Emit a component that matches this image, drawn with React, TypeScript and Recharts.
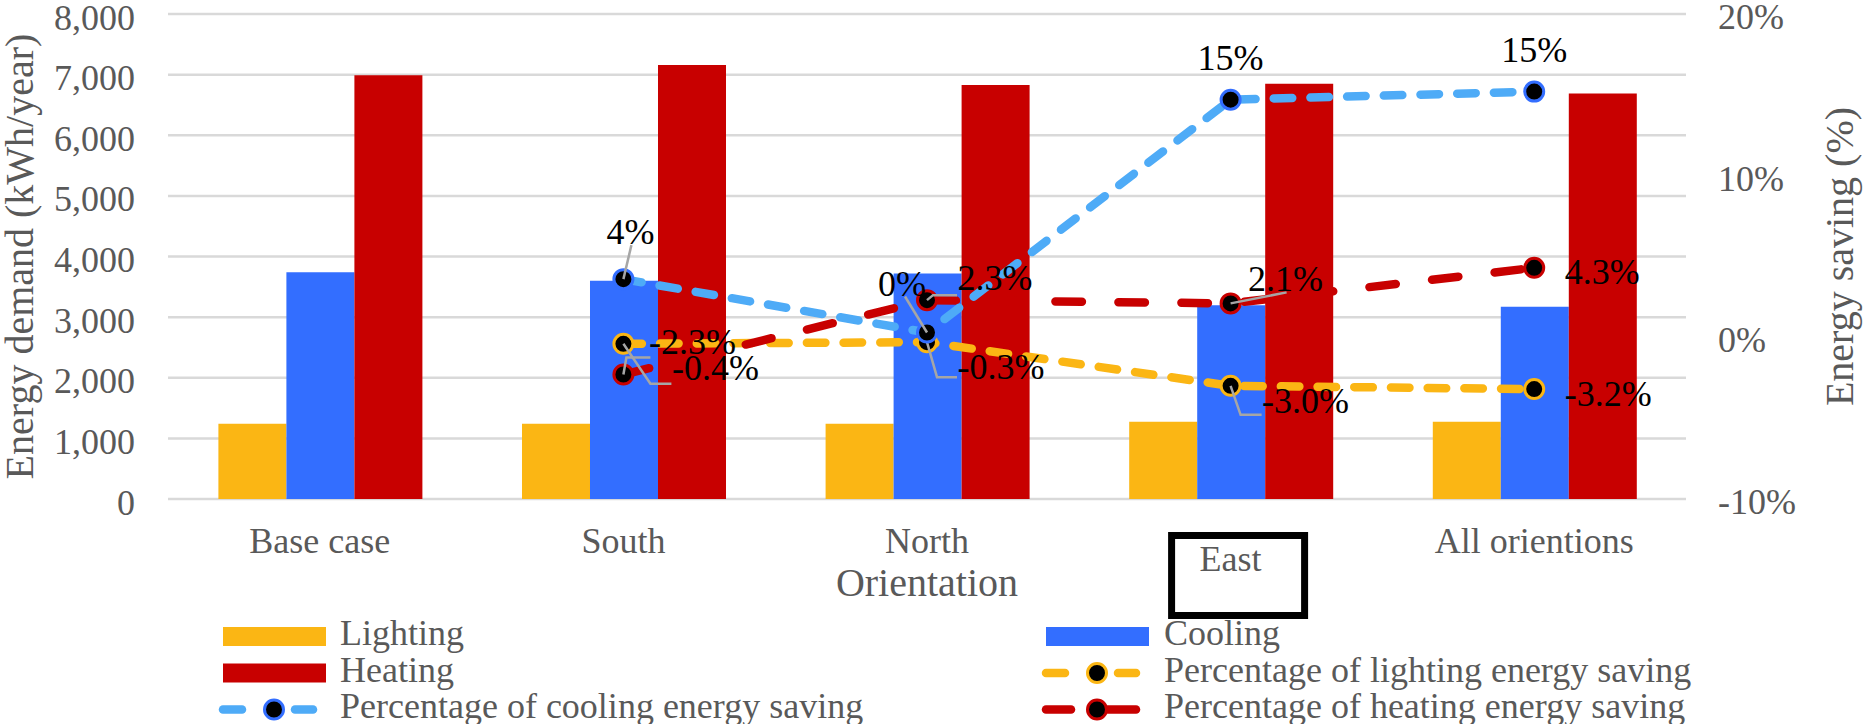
import React from 'react';
import { ComposedChart, Bar, Line, XAxis, YAxis, CartesianGrid, Legend } from 'recharts';

// ---------- data ----------
const categories = ['Base case', 'South', 'North', 'East', 'All orientions'];
const lightingDemand = [1240, 1240, 1240, 1275, 1275];
const coolingDemand = [3740, 3600, 3720, 3195, 3170];
const heatingDemand = [6990, 7160, 6830, 6850, 6690];
const lightingSaving: (number | null)[] = [null, -0.4, -0.3, -3.0, -3.2];
const coolingSaving: (number | null)[] = [null, 3.6, 0.3, 14.7, 15.2];
const heatingSaving: (number | null)[] = [null, -2.3, 2.3, 2.1, 4.3];
const demandTicks = [0, 1000, 2000, 3000, 4000, 5000, 6000, 7000, 8000];
const savingTicks = [-10, 0, 10, 20];
const highlightedCategory = 'East';

const data = categories.map((c, i) => ({
  category: c,
  lighting: lightingDemand[i],
  cooling: coolingDemand[i],
  heating: heatingDemand[i],
  lightingSaving: lightingSaving[i],
  coolingSaving: coolingSaving[i],
  heatingSaving: heatingSaving[i],
}));

// ---------- styles / layout ----------
const W = 1865;
const H = 724;
const FONT = "'Liberation Serif', 'Times New Roman', serif";
const GRAY_TEXT = '#595959';
const LIGHT = '#FBB614';
const COOL = '#336EFF';
const COOL_LINE = '#4EABF7';
const HEAT = '#C80000';
const LEADER = '#A6A6A6';
const LINE_W = 8.5;

type LabelCfg = { dx: number; dy: number; leader?: number[][] } | null;
const labelLayout: Record<string, LabelCfg[]> = {
  coolingSaving: [
    null,
    { dx: 7, dy: -47, leader: [[0, 0], [8, -34]] },
    { dx: -25, dy: -48, leader: [[0, 0], [-22, -36]] },
    { dx: 0, dy: -42 },
    { dx: 0, dy: -42 },
  ],
  lightingSaving: [
    null,
    { dx: 92, dy: 24, leader: [[0, 0], [27, 40], [48, 40]] },
    { dx: 74, dy: 25, leader: [[0, 0], [10, 35], [30, 35]] },
    { dx: 75, dy: 15, leader: [[0, 0], [10, 29], [31, 29]] },
    { dx: 74, dy: 5 },
  ],
  heatingSaving: [
    null,
    { dx: 69, dy: -33, leader: [[0, 0], [3, -17], [27, -17]] },
    { dx: 68, dy: -22, leader: [[0, 0], [6, -5], [30, -5]] },
    { dx: 55, dy: -24, leader: [[0, 0], [56, -11]] },
    { dx: 68, dy: 4 },
  ],
};

const makeDot = (key: string, ring: string, decimals: number) => (props: any) => {
  const { cx, cy, index } = props;
  const value = props.value != null ? props.value : props.payload ? props.payload[key] : null;
  if (cx == null || cy == null || value == null || Number.isNaN(cy)) {
    return <g key={`${key}-dot-${index}`} />;
  }
  const cfg = labelLayout[key][index];
  const txt = `${Number(value).toFixed(decimals)}%`;
  return (
    <g key={`${key}-dot-${index}`}>
      <circle cx={cx} cy={cy} r={9.5} fill="#000" stroke={ring} strokeWidth={3} />
      {cfg && cfg.leader && (
        <polyline
          points={cfg.leader.map((p) => `${cx + p[0]},${cy + p[1]}`).join(' ')}
          fill="none"
          stroke={LEADER}
          strokeWidth={2.5}
        />
      )}
      {cfg && (
        <text
          x={cx + cfg.dx}
          y={cy + cfg.dy + 12}
          textAnchor="middle"
          fontFamily={FONT}
          fontSize={36}
          fill="#000"
        >
          {txt}
        </text>
      )}
    </g>
  );
};

const LeftTick = (props: any) => {
  const { x, y, payload } = props;
  return (
    <text x={x} y={y + 15.5} textAnchor="end" fontFamily={FONT} fontSize={36} fill={GRAY_TEXT}>
      {Number(payload.value).toLocaleString('en-US')}
    </text>
  );
};

const RightTick = (props: any) => {
  const { x, y, payload } = props;
  return (
    <text x={x} y={y + 15} textAnchor="start" fontFamily={FONT} fontSize={36} fill={GRAY_TEXT}>
      {`${payload.value}%`}
    </text>
  );
};

const XTick = (props: any) => {
  const { x, y, payload } = props;
  const boxed = payload.value === highlightedCategory;
  return (
    <g>
      {boxed && (
        <rect x={x - 59} y={y + 36.5} width={133} height={80} fill="#fff" stroke="#000" strokeWidth={7} />
      )}
      <text x={x} y={y + (boxed ? 72 : 54)} textAnchor="middle" fontFamily={FONT} fontSize={36} fill={GRAY_TEXT}>
        {payload.value}
      </text>
    </g>
  );
};

const legendItems = [
  { name: 'Lighting', kind: 'bar', color: LIGHT },
  { name: 'Cooling', kind: 'bar', color: COOL },
  { name: 'Heating', kind: 'bar', color: HEAT },
  { name: 'Percentage of lighting energy saving', kind: 'line', color: LIGHT, ring: LIGHT, segs: [[0, 27], [72, 98]] },
  { name: 'Percentage of cooling energy saving', kind: 'line', color: COOL_LINE, ring: COOL, segs: [[0, 27], [72, 98]] },
  { name: 'Percentage of heating energy saving', kind: 'line', color: HEAT, ring: HEAT, segs: [[0, 33], [62, 98]] },
];

const LEG_TOP = 600;
const LegendBlock = () => {
  const colX = [219, 1042];
  const textX = [340, 1164];
  const baselines = [45, 81.5, 118];
  return (
    <svg width={W} height={H - LEG_TOP} style={{ display: 'block', overflow: 'hidden' }}>
      {legendItems.map((it: any, i) => {
        const col = i % 2;
        const row = Math.floor(i / 2);
        const bx = colX[col];
        const by = baselines[row];
        const cy = by - 8.5;
        return (
          <g key={it.name}>
            {it.kind === 'bar' ? (
              <rect x={bx + 4} y={by - 18} width={103} height={19} fill={it.color} />
            ) : (
              <g>
                {it.segs.map((s: number[], k: number) => (
                  <line
                    key={k}
                    x1={bx + s[0] + 4}
                    x2={bx + s[1] - 4}
                    y1={cy}
                    y2={cy}
                    stroke={it.color}
                    strokeWidth={LINE_W}
                    strokeLinecap="round"
                  />
                ))}
                <circle cx={bx + 55} cy={cy} r={9.5} fill="#000" stroke={it.ring} strokeWidth={3} />
              </g>
            )}
            <text x={textX[col]} y={by} fontFamily={FONT} fontSize={36} fill={GRAY_TEXT}>
              {it.name}
            </text>
          </g>
        );
      })}
    </svg>
  );
};

const PLOT_LEFT = 168;
const PLOT_TOP = 14;
const PLOT_RIGHT = 1686;
const PLOT_BOTTOM = 499;

const XTitle = (props: any) => {
  const vb = props.viewBox || { x: PLOT_LEFT, y: PLOT_BOTTOM, width: PLOT_RIGHT - PLOT_LEFT, height: 110 };
  return (
    <text x={vb.x + vb.width / 2} y={vb.y + 97} textAnchor="middle" fontFamily={FONT} fontSize={40} fill={GRAY_TEXT}>
      Orientation
    </text>
  );
};

const LeftTitle = () => {
  const cy = (PLOT_TOP + PLOT_BOTTOM) / 2;
  return (
    <text x={33} y={cy} transform={`rotate(-90, 33, ${cy})`} textAnchor="middle" fontFamily={FONT} fontSize={40} fill={GRAY_TEXT}>
      Energy demand (kWh/year)
    </text>
  );
};

const RightTitle = () => {
  const cy = (PLOT_TOP + PLOT_BOTTOM) / 2;
  return (
    <text x={1853} y={cy} transform={`rotate(-90, 1853, ${cy})`} textAnchor="middle" fontFamily={FONT} fontSize={40} fill={GRAY_TEXT}>
      Energy saving (%)
    </text>
  );
};

export default function App() {
  return (
    <div style={{ width: W, height: H, position: 'relative', background: '#fff' }}>
      <style>{'html,body{margin:0;padding:0;overflow:hidden;background:#fff}'}</style>
      <ComposedChart
        width={W}
        height={H}
        data={data}
        margin={{ top: PLOT_TOP, right: 0, bottom: 115, left: 0 }}
        barCategoryGap="16.6%"
        barGap={0}
      >
        <CartesianGrid yAxisId="left" vertical={false} stroke="#D9D9D9" strokeWidth={2.5} />
        <XAxis
          dataKey="category"
          height={110}
          interval={0}
          axisLine={false}
          tickLine={false}
          tickSize={0}
          tickMargin={0}
          tick={<XTick />}
          label={<XTitle />}
        />
        <YAxis
          yAxisId="left"
          width={PLOT_LEFT}
          domain={[0, 8000]}
          ticks={demandTicks}
          axisLine={false}
          tickLine={false}
          tickSize={0}
          tickMargin={33}
          tick={<LeftTick />}
          label={<LeftTitle />}
        />
        <YAxis
          yAxisId="right"
          orientation="right"
          width={W - PLOT_RIGHT}
          domain={[-10, 20]}
          ticks={savingTicks}
          axisLine={false}
          tickLine={false}
          tickSize={0}
          tickMargin={32}
          tick={<RightTick />}
          label={<RightTitle />}
        />
        <Bar yAxisId="left" dataKey="lighting" name="Lighting" fill={LIGHT} isAnimationActive={false} />
        <Bar yAxisId="left" dataKey="cooling" name="Cooling" fill={COOL} isAnimationActive={false} />
        <Bar yAxisId="left" dataKey="heating" name="Heating" fill={HEAT} isAnimationActive={false} />
        <Line
          yAxisId="right"
          dataKey="lightingSaving"
          name="Percentage of lighting energy saving"
          stroke={LIGHT}
          strokeWidth={LINE_W}
          strokeDasharray="18.5 18.2"
          strokeLinecap="round"
          dot={makeDot('lightingSaving', LIGHT, 1)}
          activeDot={false}
          isAnimationActive={false}
        />
        <Line
          yAxisId="right"
          dataKey="heatingSaving"
          name="Percentage of heating energy saving"
          stroke={HEAT}
          strokeWidth={LINE_W}
          strokeDasharray="26.5 36.5"
          strokeLinecap="round"
          dot={makeDot('heatingSaving', HEAT, 1)}
          activeDot={false}
          isAnimationActive={false}
        />
        <Line
          yAxisId="right"
          dataKey="coolingSaving"
          name="Percentage of cooling energy saving"
          stroke={COOL_LINE}
          strokeWidth={LINE_W}
          strokeDasharray="18.5 18.2"
          strokeLinecap="round"
          dot={makeDot('coolingSaving', COOL, 0)}
          activeDot={false}
          isAnimationActive={false}
        />
        <Legend
          layout="horizontal"
          verticalAlign="middle"
          align="center"
          wrapperStyle={{ top: LEG_TOP, left: 0, width: W, height: H - LEG_TOP, margin: 0, padding: 0 }}
          content={() => <LegendBlock />}
        />
      </ComposedChart>
    </div>
  );
}
